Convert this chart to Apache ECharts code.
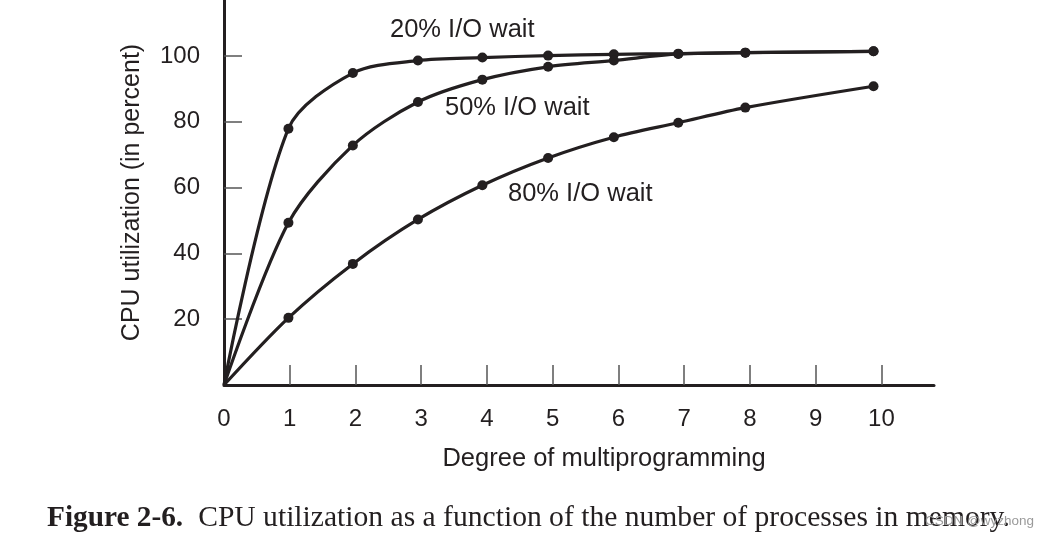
<!DOCTYPE html>
<html><head><meta charset="utf-8">
<script src="https://cdn.jsdelivr.net/npm/echarts@6/dist/echarts.min.js"></script>
<style>html,body{margin:0;padding:0;background:#fff}#c{width:1048px;height:539px}</style>
</head><body><div id="c"></div>
<script>
// Degree of multiprogramming (x positions)
const xs = [0, 0.98, 1.96, 2.95, 3.93, 4.93, 5.93, 6.91, 7.93, 9.88];
// CPU utilization (%)
const io20 = [0, 77.9, 94.8, 98.6, 99.5, 100.1, 100.5, 100.7, 101.0, 101.4];
const io50 = [0, 49.3, 72.8, 86.0, 92.8, 96.7, 98.6, 100.6, 101.0, 101.4];
const io80 = [0, 20.4, 36.8, 50.3, 60.7, 69.0, 75.3, 79.7, 84.3, 90.8];
const xTicks = [0,1,2,3,4,5,6,7,8,9,10];
const yTicks = [20,40,60,80,100];
const seriesNames = ['20% I/O wait','50% I/O wait','80% I/O wait'];

const ink = '#231f20';
function mk(vals){
  return xs.map((x,i)=> i===0 ? {value:[x,vals[i]], symbol:'none'} : [x, vals[i]]);
}
const chart = echarts.init(document.getElementById('c'));
const series = [io20, io50, io80].map((v,i)=>({
  name: seriesNames[i], type:'line', data: mk(v), smooth:0.3,
  symbol:'circle', symbolSize:10, showSymbol:true,
  lineStyle:{color:ink, width:3.2}, itemStyle:{color:ink}, z:3
}));
chart.setOption({
  animation:false,
  grid:{left:224, right:114, top:0, bottom:154, containLabel:false},
  xAxis:{type:'value', min:0, max:10.8, interval:1,
    axisLine:{lineStyle:{color:ink, width:3}},
    axisTick:{inside:true, length:20, lineStyle:{color:'#555', width:1.5},
      customValues: xTicks.slice(1)},
    axisLabel:{color:ink, fontSize:24, fontFamily:'Liberation Sans', margin:22,
      customValues: xTicks, formatter:v=>String(v)},
    splitLine:{show:false},
    name:'Degree of multiprogramming', nameLocation:'middle', nameGap:61,
    nameTextStyle:{color:ink, fontSize:25.5, fontFamily:'Liberation Sans', padding:[0,0,0,50]}
  },
  yAxis:{type:'value', min:0, max:117,
    axisLine:{lineStyle:{color:ink, width:3}},
    axisTick:{inside:true, length:18, lineStyle:{color:'#555', width:1.5}, customValues: yTicks},
    axisLabel:{color:ink, fontSize:24, fontFamily:'Liberation Sans', margin:24, customValues: yTicks},
    splitLine:{show:false},
    name:'CPU utilization (in percent)', nameLocation:'middle', nameGap:79,
    nameTextStyle:{color:ink, fontSize:25, fontFamily:'Liberation Sans'}
  },
  series: series,
  graphic:[
    {type:'text', left:390, top:17, style:{text:seriesNames[0], fill:ink, font:'25.5px "Liberation Sans"'}},
    {type:'text', left:445, top:95, style:{text:seriesNames[1], fill:ink, font:'25.5px "Liberation Sans"'}},
    {type:'text', left:508, top:181, style:{text:seriesNames[2], fill:ink, font:'25.5px "Liberation Sans"'}},
    {type:'text', left:47, top:503, style:{
      text:'{b|Figure 2-6.}{g| }CPU utilization as a function of the number of processes in memory.',
      fill:ink, font:'29.6px "Liberation Serif"',
      rich:{b:{fontWeight:'bold', fontSize:29.3, fontFamily:'Liberation Serif', fill:ink},
            g:{width:15, fontSize:29}}}},
    {type:'text', left:925, top:514, style:{text:'CSDN @wyzhong', fill:'#9a9a9a', font:'13.5px "Liberation Sans"'}}
  ]
});
</script></body></html>
